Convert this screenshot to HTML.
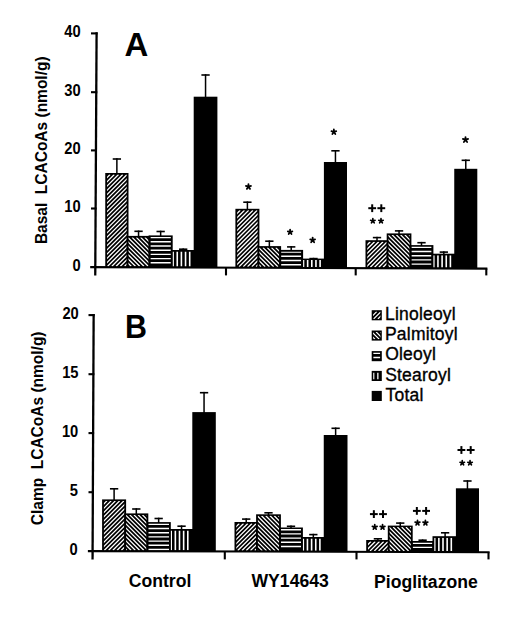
<!DOCTYPE html>
<html><head><meta charset="utf-8"><style>
html,body{margin:0;padding:0;background:#fff;}
body{width:520px;height:624px;overflow:hidden;}
svg{display:block;}
text{font-family:"Liberation Sans",sans-serif;fill:#000;}
.tl{font-weight:bold;font-size:15.5px;text-anchor:end;}
.yl{font-weight:bold;font-size:15.5px;}
.xl{font-weight:bold;font-size:17.6px;}
.lg{font-size:17.5px;letter-spacing:0.2px;stroke:#000;stroke-width:0.35px;}
.pl{font-weight:bold;font-size:32px;}
</style></head><body>
<svg width="520" height="624" viewBox="0 0 520 624">

<line x1="96.60" y1="32.30" x2="95.25" y2="275.40" stroke="#000" stroke-width="2.3"/>
<line x1="91.00" y1="33.40" x2="97.60" y2="33.40" stroke="#000" stroke-width="2.1"/>
<line x1="91.00" y1="92.20" x2="97.27" y2="92.20" stroke="#000" stroke-width="2.1"/>
<line x1="91.00" y1="150.40" x2="96.95" y2="150.40" stroke="#000" stroke-width="2.1"/>
<line x1="91.00" y1="208.50" x2="96.63" y2="208.50" stroke="#000" stroke-width="2.1"/>
<line x1="90.20" y1="267.10" x2="487.40" y2="268.60" stroke="#000" stroke-width="2.1"/>
<line x1="226.00" y1="267.61" x2="226.00" y2="275.40" stroke="#000" stroke-width="2.1"/>
<line x1="355.70" y1="268.10" x2="355.70" y2="275.40" stroke="#000" stroke-width="2.1"/>
<line x1="486.30" y1="268.60" x2="486.30" y2="275.40" stroke="#000" stroke-width="2.1"/>
<line x1="93.65" y1="314.00" x2="92.56" y2="559.40" stroke="#000" stroke-width="2.3"/>
<line x1="88.50" y1="315.10" x2="94.65" y2="315.10" stroke="#000" stroke-width="2.1"/>
<line x1="88.50" y1="374.20" x2="94.39" y2="374.20" stroke="#000" stroke-width="2.1"/>
<line x1="88.50" y1="433.10" x2="94.12" y2="433.10" stroke="#000" stroke-width="2.1"/>
<line x1="88.50" y1="492.20" x2="93.86" y2="492.20" stroke="#000" stroke-width="2.1"/>
<line x1="87.90" y1="551.10" x2="489.60" y2="552.20" stroke="#000" stroke-width="2.1"/>
<line x1="224.80" y1="551.48" x2="224.80" y2="559.40" stroke="#000" stroke-width="2.1"/>
<line x1="356.50" y1="551.84" x2="356.50" y2="559.40" stroke="#000" stroke-width="2.1"/>
<line x1="488.50" y1="552.20" x2="488.50" y2="559.40" stroke="#000" stroke-width="2.1"/>
<rect x="116.12" y="158.20" width="1.5" height="15.80" fill="#000"/>
<rect x="112.72" y="158.20" width="8.3" height="1.6" fill="#000"/>
<rect x="105.25" y="173.00" width="23.25" height="94.20" fill="#000"/>
<clipPath id="c5"><rect x="107.05" y="174.50" width="19.65" height="91.70"/></clipPath><path clip-path="url(#c5)" d="M101.55 174.50L9.85 266.20M105.80 174.50L14.10 266.20M110.05 174.50L18.35 266.20M114.30 174.50L22.60 266.20M118.55 174.50L26.85 266.20M122.80 174.50L31.10 266.20M127.05 174.50L35.35 266.20M131.30 174.50L39.60 266.20M135.55 174.50L43.85 266.20M139.80 174.50L48.10 266.20M144.05 174.50L52.35 266.20M148.30 174.50L56.60 266.20M152.55 174.50L60.85 266.20M156.80 174.50L65.10 266.20M161.05 174.50L69.35 266.20M165.30 174.50L73.60 266.20M169.55 174.50L77.85 266.20M173.80 174.50L82.10 266.20M178.05 174.50L86.35 266.20M182.30 174.50L90.60 266.20M186.55 174.50L94.85 266.20M190.80 174.50L99.10 266.20M195.05 174.50L103.35 266.20M199.30 174.50L107.60 266.20M203.55 174.50L111.85 266.20M207.80 174.50L116.10 266.20M212.05 174.50L120.35 266.20M216.30 174.50L124.60 266.20M220.55 174.50L128.85 266.20M224.80 174.50L133.10 266.20" stroke="#fff" stroke-width="1.3" fill="none"/>
<rect x="137.80" y="230.50" width="1.5" height="6.40" fill="#000"/>
<rect x="134.40" y="230.50" width="8.3" height="1.6" fill="#000"/>
<rect x="126.70" y="235.90" width="23.70" height="31.38" fill="#000"/>
<clipPath id="c6"><rect x="128.50" y="237.40" width="20.10" height="28.88"/></clipPath><path clip-path="url(#c6)" d="M98.10 237.40L126.98 266.28M102.35 237.40L131.23 266.28M106.60 237.40L135.48 266.28M110.85 237.40L139.73 266.28M115.10 237.40L143.98 266.28M119.35 237.40L148.23 266.28M123.60 237.40L152.48 266.28M127.85 237.40L156.73 266.28M132.10 237.40L160.98 266.28M136.35 237.40L165.23 266.28M140.60 237.40L169.48 266.28M144.85 237.40L173.73 266.28M149.10 237.40L177.98 266.28M153.35 237.40L182.23 266.28M157.60 237.40L186.48 266.28" stroke="#fff" stroke-width="1.3" fill="none"/>
<rect x="159.90" y="230.70" width="1.5" height="5.70" fill="#000"/>
<rect x="156.50" y="230.70" width="8.3" height="1.6" fill="#000"/>
<rect x="148.60" y="235.40" width="24.10" height="31.97" fill="#000"/>
<clipPath id="c7"><rect x="150.40" y="236.90" width="20.50" height="29.47"/></clipPath><path clip-path="url(#c7)" d="M150.40 237.60H170.90M150.40 241.80H170.90M150.40 246.00H170.90M150.40 250.20H170.90M150.40 254.40H170.90M150.40 258.60H170.90M150.40 262.80H170.90" stroke="#fff" stroke-width="1.4" fill="none"/>
<rect x="182.45" y="248.40" width="1.5" height="2.60" fill="#000"/>
<rect x="179.05" y="248.40" width="8.3" height="1.6" fill="#000"/>
<rect x="170.90" y="250.00" width="24.60" height="17.45" fill="#000"/>
<clipPath id="c8"><rect x="172.70" y="251.50" width="19.30" height="14.95"/></clipPath><path clip-path="url(#c8)" d="M173.10 251.50V266.45M177.25 251.50V266.45M181.40 251.50V266.45M185.55 251.50V266.45M189.70 251.50V266.45" stroke="#fff" stroke-width="1.6" fill="none"/>
<rect x="204.80" y="74.20" width="1.5" height="23.50" fill="#000"/>
<rect x="201.40" y="74.20" width="8.3" height="1.6" fill="#000"/>
<rect x="193.70" y="96.70" width="23.70" height="170.84" fill="#000"/>
<rect x="246.65" y="201.40" width="1.5" height="8.40" fill="#000"/>
<rect x="243.25" y="201.40" width="8.3" height="1.6" fill="#000"/>
<rect x="235.40" y="208.80" width="24.00" height="58.89" fill="#000"/>
<clipPath id="c9"><rect x="237.20" y="210.30" width="20.40" height="56.39"/></clipPath><path clip-path="url(#c9)" d="M231.70 210.30L175.31 266.69M235.95 210.30L179.56 266.69M240.20 210.30L183.81 266.69M244.45 210.30L188.06 266.69M248.70 210.30L192.31 266.69M252.95 210.30L196.56 266.69M257.20 210.30L200.81 266.69M261.45 210.30L205.06 266.69M265.70 210.30L209.31 266.69M269.95 210.30L213.56 266.69M274.20 210.30L217.81 266.69M278.45 210.30L222.06 266.69M282.70 210.30L226.31 266.69M286.95 210.30L230.56 266.69M291.20 210.30L234.81 266.69M295.45 210.30L239.06 266.69M299.70 210.30L243.31 266.69M303.95 210.30L247.56 266.69M308.20 210.30L251.81 266.69M312.45 210.30L256.06 266.69M316.70 210.30L260.31 266.69M320.95 210.30L264.56 266.69" stroke="#fff" stroke-width="1.3" fill="none"/>
<rect x="268.60" y="240.40" width="1.5" height="6.70" fill="#000"/>
<rect x="265.20" y="240.40" width="8.3" height="1.6" fill="#000"/>
<rect x="257.60" y="246.10" width="23.50" height="21.68" fill="#000"/>
<clipPath id="c10"><rect x="259.40" y="247.60" width="19.90" height="19.18"/></clipPath><path clip-path="url(#c10)" d="M237.50 247.60L256.68 266.78M241.75 247.60L260.93 266.78M246.00 247.60L265.18 266.78M250.25 247.60L269.43 266.78M254.50 247.60L273.68 266.78M258.75 247.60L277.93 266.78M263.00 247.60L282.18 266.78M267.25 247.60L286.43 266.78M271.50 247.60L290.68 266.78M275.75 247.60L294.93 266.78M280.00 247.60L299.18 266.78M284.25 247.60L303.43 266.78M288.50 247.60L307.68 266.78" stroke="#fff" stroke-width="1.3" fill="none"/>
<rect x="290.45" y="246.10" width="1.5" height="4.80" fill="#000"/>
<rect x="287.05" y="246.10" width="8.3" height="1.6" fill="#000"/>
<rect x="279.30" y="249.90" width="23.80" height="17.96" fill="#000"/>
<clipPath id="c11"><rect x="281.10" y="251.40" width="20.20" height="15.46"/></clipPath><path clip-path="url(#c11)" d="M281.10 252.10H301.30M281.10 256.30H301.30M281.10 260.50H301.30M281.10 264.70H301.30" stroke="#fff" stroke-width="1.4" fill="none"/>
<rect x="312.75" y="257.80" width="1.5" height="1.80" fill="#000"/>
<rect x="309.35" y="257.80" width="8.3" height="1.6" fill="#000"/>
<rect x="301.30" y="258.60" width="24.40" height="9.34" fill="#000"/>
<clipPath id="c12"><rect x="303.10" y="260.10" width="19.10" height="6.84"/></clipPath><path clip-path="url(#c12)" d="M303.50 260.10V266.94M307.65 260.10V266.94M311.80 260.10V266.94M315.95 260.10V266.94M320.10 260.10V266.94" stroke="#fff" stroke-width="1.6" fill="none"/>
<rect x="334.70" y="150.00" width="1.5" height="13.00" fill="#000"/>
<rect x="331.30" y="150.00" width="8.3" height="1.6" fill="#000"/>
<rect x="323.90" y="162.00" width="23.10" height="106.03" fill="#000"/>
<rect x="376.25" y="236.80" width="1.5" height="4.40" fill="#000"/>
<rect x="372.85" y="236.80" width="8.3" height="1.6" fill="#000"/>
<rect x="365.50" y="240.20" width="23.00" height="27.98" fill="#000"/>
<clipPath id="c13"><rect x="367.30" y="241.70" width="19.40" height="25.48"/></clipPath><path clip-path="url(#c13)" d="M361.80 241.70L336.32 267.18M366.05 241.70L340.57 267.18M370.30 241.70L344.82 267.18M374.55 241.70L349.07 267.18M378.80 241.70L353.32 267.18M383.05 241.70L357.57 267.18M387.30 241.70L361.82 267.18M391.55 241.70L366.07 267.18M395.80 241.70L370.32 267.18M400.05 241.70L374.57 267.18M404.30 241.70L378.82 267.18M408.55 241.70L383.07 267.18M412.80 241.70L387.32 267.18M417.05 241.70L391.57 267.18M421.30 241.70L395.82 267.18" stroke="#fff" stroke-width="1.3" fill="none"/>
<rect x="398.30" y="230.10" width="1.5" height="4.30" fill="#000"/>
<rect x="394.90" y="230.10" width="8.3" height="1.6" fill="#000"/>
<rect x="386.70" y="233.40" width="24.70" height="34.87" fill="#000"/>
<clipPath id="c14"><rect x="388.50" y="234.90" width="21.10" height="32.37"/></clipPath><path clip-path="url(#c14)" d="M353.85 234.90L386.22 267.27M358.10 234.90L390.47 267.27M362.35 234.90L394.72 267.27M366.60 234.90L398.97 267.27M370.85 234.90L403.22 267.27M375.10 234.90L407.47 267.27M379.35 234.90L411.72 267.27M383.60 234.90L415.97 267.27M387.85 234.90L420.22 267.27M392.10 234.90L424.47 267.27M396.35 234.90L428.72 267.27M400.60 234.90L432.97 267.27M404.85 234.90L437.22 267.27M409.10 234.90L441.47 267.27M413.35 234.90L445.72 267.27M417.60 234.90L449.97 267.27" stroke="#fff" stroke-width="1.3" fill="none"/>
<rect x="420.75" y="241.90" width="1.5" height="4.20" fill="#000"/>
<rect x="417.35" y="241.90" width="8.3" height="1.6" fill="#000"/>
<rect x="409.60" y="245.10" width="23.80" height="23.25" fill="#000"/>
<clipPath id="c15"><rect x="411.40" y="246.60" width="20.20" height="20.75"/></clipPath><path clip-path="url(#c15)" d="M411.40 247.30H431.60M411.40 251.50H431.60M411.40 255.70H431.60M411.40 259.90H431.60M411.40 264.10H431.60" stroke="#fff" stroke-width="1.4" fill="none"/>
<rect x="443.07" y="251.30" width="1.5" height="3.40" fill="#000"/>
<rect x="439.68" y="251.30" width="8.3" height="1.6" fill="#000"/>
<rect x="431.60" y="253.70" width="24.45" height="14.74" fill="#000"/>
<clipPath id="c16"><rect x="433.40" y="255.20" width="19.15" height="12.24"/></clipPath><path clip-path="url(#c16)" d="M433.80 255.20V267.44M437.95 255.20V267.44M442.10 255.20V267.44M446.25 255.20V267.44M450.40 255.20V267.44" stroke="#fff" stroke-width="1.6" fill="none"/>
<rect x="465.02" y="159.50" width="1.5" height="10.30" fill="#000"/>
<rect x="461.62" y="159.50" width="8.3" height="1.6" fill="#000"/>
<rect x="454.25" y="168.80" width="23.05" height="99.72" fill="#000"/>
<rect x="113.35" y="488.00" width="1.5" height="12.40" fill="#000"/>
<rect x="109.95" y="488.00" width="8.3" height="1.6" fill="#000"/>
<rect x="102.10" y="499.40" width="24.00" height="51.77" fill="#000"/>
<clipPath id="c17"><rect x="103.90" y="500.90" width="20.40" height="49.27"/></clipPath><path clip-path="url(#c17)" d="M98.40 500.90L49.13 550.17M102.65 500.90L53.38 550.17M106.90 500.90L57.63 550.17M111.15 500.90L61.88 550.17M115.40 500.90L66.13 550.17M119.65 500.90L70.38 550.17M123.90 500.90L74.63 550.17M128.15 500.90L78.88 550.17M132.40 500.90L83.13 550.17M136.65 500.90L87.38 550.17M140.90 500.90L91.63 550.17M145.15 500.90L95.88 550.17M149.40 500.90L100.13 550.17M153.65 500.90L104.38 550.17M157.90 500.90L108.63 550.17M162.15 500.90L112.88 550.17M166.40 500.90L117.13 550.17M170.65 500.90L121.38 550.17M174.90 500.90L125.63 550.17M179.15 500.90L129.88 550.17" stroke="#fff" stroke-width="1.3" fill="none"/>
<rect x="135.55" y="508.20" width="1.5" height="6.20" fill="#000"/>
<rect x="132.15" y="508.20" width="8.3" height="1.6" fill="#000"/>
<rect x="124.30" y="513.40" width="24.00" height="37.83" fill="#000"/>
<clipPath id="c18"><rect x="126.10" y="514.90" width="20.40" height="35.33"/></clipPath><path clip-path="url(#c18)" d="M87.20 514.90L122.53 550.23M91.45 514.90L126.78 550.23M95.70 514.90L131.03 550.23M99.95 514.90L135.28 550.23M104.20 514.90L139.53 550.23M108.45 514.90L143.78 550.23M112.70 514.90L148.03 550.23M116.95 514.90L152.28 550.23M121.20 514.90L156.53 550.23M125.45 514.90L160.78 550.23M129.70 514.90L165.03 550.23M133.95 514.90L169.28 550.23M138.20 514.90L173.53 550.23M142.45 514.90L177.78 550.23M146.70 514.90L182.03 550.23M150.95 514.90L186.28 550.23M155.20 514.90L190.53 550.23" stroke="#fff" stroke-width="1.3" fill="none"/>
<rect x="157.90" y="517.70" width="1.5" height="5.40" fill="#000"/>
<rect x="154.50" y="517.70" width="8.3" height="1.6" fill="#000"/>
<rect x="146.50" y="522.10" width="24.30" height="29.19" fill="#000"/>
<clipPath id="c19"><rect x="148.30" y="523.60" width="20.70" height="26.69"/></clipPath><path clip-path="url(#c19)" d="M148.30 524.30H169.00M148.30 528.50H169.00M148.30 532.70H169.00M148.30 536.90H169.00M148.30 541.10H169.00M148.30 545.30H169.00M148.30 549.50H169.00" stroke="#fff" stroke-width="1.4" fill="none"/>
<rect x="180.80" y="525.40" width="1.5" height="4.60" fill="#000"/>
<rect x="177.40" y="525.40" width="8.3" height="1.6" fill="#000"/>
<rect x="169.00" y="529.00" width="25.10" height="22.36" fill="#000"/>
<clipPath id="c20"><rect x="170.80" y="530.50" width="19.80" height="19.86"/></clipPath><path clip-path="url(#c20)" d="M171.20 530.50V550.36M175.35 530.50V550.36M179.50 530.50V550.36M183.65 530.50V550.36M187.80 530.50V550.36" stroke="#fff" stroke-width="1.6" fill="none"/>
<rect x="203.30" y="391.90" width="1.5" height="21.20" fill="#000"/>
<rect x="199.90" y="391.90" width="8.3" height="1.6" fill="#000"/>
<rect x="192.30" y="412.10" width="23.50" height="139.32" fill="#000"/>
<rect x="245.45" y="518.30" width="1.5" height="4.70" fill="#000"/>
<rect x="242.05" y="518.30" width="8.3" height="1.6" fill="#000"/>
<rect x="234.50" y="522.00" width="23.40" height="29.53" fill="#000"/>
<clipPath id="c21"><rect x="236.30" y="523.50" width="19.80" height="27.03"/></clipPath><path clip-path="url(#c21)" d="M230.80 523.50L203.77 550.53M235.05 523.50L208.02 550.53M239.30 523.50L212.27 550.53M243.55 523.50L216.52 550.53M247.80 523.50L220.77 550.53M252.05 523.50L225.02 550.53M256.30 523.50L229.27 550.53M260.55 523.50L233.52 550.53M264.80 523.50L237.77 550.53M269.05 523.50L242.02 550.53M273.30 523.50L246.27 550.53M277.55 523.50L250.52 550.53M281.80 523.50L254.77 550.53M286.05 523.50L259.02 550.53M290.30 523.50L263.27 550.53" stroke="#fff" stroke-width="1.3" fill="none"/>
<rect x="267.75" y="512.00" width="1.5" height="3.30" fill="#000"/>
<rect x="264.35" y="512.00" width="8.3" height="1.6" fill="#000"/>
<rect x="256.10" y="514.30" width="24.80" height="37.30" fill="#000"/>
<clipPath id="c22"><rect x="257.90" y="515.80" width="21.20" height="34.80"/></clipPath><path clip-path="url(#c22)" d="M219.00 515.80L253.80 550.60M223.25 515.80L258.05 550.60M227.50 515.80L262.30 550.60M231.75 515.80L266.55 550.60M236.00 515.80L270.80 550.60M240.25 515.80L275.05 550.60M244.50 515.80L279.30 550.60M248.75 515.80L283.55 550.60M253.00 515.80L287.80 550.60M257.25 515.80L292.05 550.60M261.50 515.80L296.30 550.60M265.75 515.80L300.55 550.60M270.00 515.80L304.80 550.60M274.25 515.80L309.05 550.60M278.50 515.80L313.30 550.60M282.75 515.80L317.55 550.60M287.00 515.80L321.80 550.60" stroke="#fff" stroke-width="1.3" fill="none"/>
<rect x="290.25" y="525.50" width="1.5" height="3.00" fill="#000"/>
<rect x="286.85" y="525.50" width="8.3" height="1.6" fill="#000"/>
<rect x="279.10" y="527.50" width="23.80" height="24.16" fill="#000"/>
<clipPath id="c23"><rect x="280.90" y="529.00" width="20.20" height="21.66"/></clipPath><path clip-path="url(#c23)" d="M280.90 529.70H301.10M280.90 533.90H301.10M280.90 538.10H301.10M280.90 542.30H301.10M280.90 546.50H301.10" stroke="#fff" stroke-width="1.4" fill="none"/>
<rect x="312.57" y="533.80" width="1.5" height="4.20" fill="#000"/>
<rect x="309.18" y="533.80" width="8.3" height="1.6" fill="#000"/>
<rect x="301.10" y="537.00" width="24.45" height="14.72" fill="#000"/>
<clipPath id="c24"><rect x="302.90" y="538.50" width="19.15" height="12.22"/></clipPath><path clip-path="url(#c24)" d="M303.30 538.50V550.72M307.45 538.50V550.72M311.60 538.50V550.72M315.75 538.50V550.72M319.90 538.50V550.72" stroke="#fff" stroke-width="1.6" fill="none"/>
<rect x="334.88" y="427.50" width="1.5" height="8.50" fill="#000"/>
<rect x="331.48" y="427.50" width="8.3" height="1.6" fill="#000"/>
<rect x="323.75" y="435.00" width="23.75" height="116.78" fill="#000"/>
<rect x="377.15" y="538.00" width="1.5" height="3.00" fill="#000"/>
<rect x="373.75" y="538.00" width="8.3" height="1.6" fill="#000"/>
<rect x="366.20" y="540.00" width="23.40" height="11.90" fill="#000"/>
<clipPath id="c25"><rect x="368.00" y="541.50" width="19.80" height="9.40"/></clipPath><path clip-path="url(#c25)" d="M362.50 541.50L353.10 550.90M366.75 541.50L357.35 550.90M371.00 541.50L361.60 550.90M375.25 541.50L365.85 550.90M379.50 541.50L370.10 550.90M383.75 541.50L374.35 550.90M388.00 541.50L378.60 550.90M392.25 541.50L382.85 550.90M396.50 541.50L387.10 550.90M400.75 541.50L391.35 550.90M405.00 541.50L395.60 550.90" stroke="#fff" stroke-width="1.3" fill="none"/>
<rect x="399.50" y="522.30" width="1.5" height="4.30" fill="#000"/>
<rect x="396.10" y="522.30" width="8.3" height="1.6" fill="#000"/>
<rect x="387.80" y="525.60" width="24.90" height="26.36" fill="#000"/>
<clipPath id="c26"><rect x="389.60" y="527.10" width="21.30" height="23.86"/></clipPath><path clip-path="url(#c26)" d="M363.45 527.10L387.31 550.96M367.70 527.10L391.56 550.96M371.95 527.10L395.81 550.96M376.20 527.10L400.06 550.96M380.45 527.10L404.31 550.96M384.70 527.10L408.56 550.96M388.95 527.10L412.81 550.96M393.20 527.10L417.06 550.96M397.45 527.10L421.31 550.96M401.70 527.10L425.56 550.96M405.95 527.10L429.81 550.96M410.20 527.10L434.06 550.96M414.45 527.10L438.31 550.96M418.70 527.10L442.56 550.96" stroke="#fff" stroke-width="1.3" fill="none"/>
<rect x="421.85" y="539.40" width="1.5" height="2.60" fill="#000"/>
<rect x="418.45" y="539.40" width="8.3" height="1.6" fill="#000"/>
<rect x="410.90" y="541.00" width="23.40" height="11.02" fill="#000"/>
<clipPath id="c27"><rect x="412.70" y="542.50" width="19.80" height="8.52"/></clipPath><path clip-path="url(#c27)" d="M412.70 543.20H432.50M412.70 547.40H432.50" stroke="#fff" stroke-width="1.4" fill="none"/>
<rect x="444.35" y="532.00" width="1.5" height="5.20" fill="#000"/>
<rect x="440.95" y="532.00" width="8.3" height="1.6" fill="#000"/>
<rect x="432.50" y="536.20" width="25.20" height="15.88" fill="#000"/>
<clipPath id="c28"><rect x="434.30" y="537.70" width="19.90" height="13.38"/></clipPath><path clip-path="url(#c28)" d="M434.70 537.70V551.08M438.85 537.70V551.08M443.00 537.70V551.08M447.15 537.70V551.08M451.30 537.70V551.08" stroke="#fff" stroke-width="1.6" fill="none"/>
<rect x="466.70" y="480.20" width="1.5" height="9.10" fill="#000"/>
<rect x="463.30" y="480.20" width="8.3" height="1.6" fill="#000"/>
<rect x="455.90" y="488.30" width="23.10" height="63.84" fill="#000"/>
<path d="M248.45 186.75L248.45 184.10M248.45 186.75L250.97 185.93M248.45 186.75L250.01 188.90M248.45 186.75L246.89 188.90M248.45 186.75L245.93 185.93" stroke="#000" stroke-width="1.8" stroke-linecap="round" fill="none"/><circle cx="248.45" cy="186.75" r="1.33" fill="#000"/><path d="M290.10 232.08L290.10 229.70M290.10 232.08L292.36 231.34M290.10 232.08L291.50 234.00M290.10 232.08L288.70 234.00M290.10 232.08L287.84 231.34" stroke="#000" stroke-width="1.8" stroke-linecap="round" fill="none"/><circle cx="290.10" cy="232.08" r="1.19" fill="#000"/><path d="M312.65 240.14L312.65 237.60M312.65 240.14L315.07 239.36M312.65 240.14L314.14 242.20M312.65 240.14L311.16 242.20M312.65 240.14L310.23 239.36" stroke="#000" stroke-width="1.8" stroke-linecap="round" fill="none"/><circle cx="312.65" cy="240.14" r="1.27" fill="#000"/><path d="M333.85 131.99L333.85 129.50M333.85 131.99L336.22 131.22M333.85 131.99L335.31 134.00M333.85 131.99L332.39 134.00M333.85 131.99L331.48 131.22" stroke="#000" stroke-width="1.8" stroke-linecap="round" fill="none"/><circle cx="333.85" cy="131.99" r="1.24" fill="#000"/><path d="M465.50 139.79L465.50 137.05M465.50 139.79L468.10 138.94M465.50 139.79L467.11 142.00M465.50 139.79L463.89 142.00M465.50 139.79L462.90 138.94" stroke="#000" stroke-width="1.8" stroke-linecap="round" fill="none"/><circle cx="465.50" cy="139.79" r="1.37" fill="#000"/><rect x="368.30" y="207.20" width="7.8" height="2.0" fill="#000"/><rect x="371.20" y="204.30" width="2.0" height="7.8" fill="#000"/><rect x="377.40" y="207.20" width="7.8" height="2.0" fill="#000"/><rect x="380.30" y="204.30" width="2.0" height="7.8" fill="#000"/><path d="M372.85 220.97L372.85 218.65M372.85 220.97L375.06 220.25M372.85 220.97L374.21 222.85M372.85 220.97L371.49 222.85M372.85 220.97L370.64 220.25" stroke="#000" stroke-width="1.7" stroke-linecap="round" fill="none"/><circle cx="372.85" cy="220.97" r="1.16" fill="#000"/><path d="M381.00 220.97L381.00 218.65M381.00 220.97L383.21 220.25M381.00 220.97L382.36 222.85M381.00 220.97L379.64 222.85M381.00 220.97L378.79 220.25" stroke="#000" stroke-width="1.7" stroke-linecap="round" fill="none"/><circle cx="381.00" cy="220.97" r="1.16" fill="#000"/><rect x="369.95" y="513.10" width="7.8" height="2.0" fill="#000"/><rect x="372.85" y="510.20" width="2.0" height="7.8" fill="#000"/><rect x="379.10" y="513.10" width="7.8" height="2.0" fill="#000"/><rect x="382.00" y="510.20" width="2.0" height="7.8" fill="#000"/><path d="M374.75 527.12L374.75 524.60M374.75 527.12L377.14 526.34M374.75 527.12L376.23 529.15M374.75 527.12L373.27 529.15M374.75 527.12L372.36 526.34" stroke="#000" stroke-width="1.7" stroke-linecap="round" fill="none"/><circle cx="374.75" cy="527.12" r="1.26" fill="#000"/><path d="M382.55 527.12L382.55 524.60M382.55 527.12L384.94 526.34M382.55 527.12L384.03 529.15M382.55 527.12L381.07 529.15M382.55 527.12L380.16 526.34" stroke="#000" stroke-width="1.7" stroke-linecap="round" fill="none"/><circle cx="382.55" cy="527.12" r="1.26" fill="#000"/><rect x="412.95" y="509.90" width="7.8" height="2.0" fill="#000"/><rect x="415.85" y="507.00" width="2.0" height="7.8" fill="#000"/><rect x="422.20" y="509.90" width="7.8" height="2.0" fill="#000"/><rect x="425.10" y="507.00" width="2.0" height="7.8" fill="#000"/><path d="M417.50 522.87L417.50 520.35M417.50 522.87L419.89 522.09M417.50 522.87L418.98 524.90M417.50 522.87L416.02 524.90M417.50 522.87L415.11 522.09" stroke="#000" stroke-width="1.7" stroke-linecap="round" fill="none"/><circle cx="417.50" cy="522.87" r="1.26" fill="#000"/><path d="M425.40 522.87L425.40 520.35M425.40 522.87L427.79 522.09M425.40 522.87L426.88 524.90M425.40 522.87L423.92 524.90M425.40 522.87L423.01 522.09" stroke="#000" stroke-width="1.7" stroke-linecap="round" fill="none"/><circle cx="425.40" cy="522.87" r="1.26" fill="#000"/><rect x="457.50" y="449.00" width="7.8" height="2.0" fill="#000"/><rect x="460.40" y="446.10" width="2.0" height="7.8" fill="#000"/><rect x="466.80" y="449.00" width="7.8" height="2.0" fill="#000"/><rect x="469.70" y="446.10" width="2.0" height="7.8" fill="#000"/><path d="M462.25 462.97L462.25 460.65M462.25 462.97L464.46 462.25M462.25 462.97L463.61 464.85M462.25 462.97L460.89 464.85M462.25 462.97L460.04 462.25" stroke="#000" stroke-width="1.7" stroke-linecap="round" fill="none"/><circle cx="462.25" cy="462.97" r="1.16" fill="#000"/><path d="M470.05 462.97L470.05 460.65M470.05 462.97L472.26 462.25M470.05 462.97L471.41 464.85M470.05 462.97L468.69 464.85M470.05 462.97L467.84 462.25" stroke="#000" stroke-width="1.7" stroke-linecap="round" fill="none"/><circle cx="470.05" cy="462.97" r="1.16" fill="#000"/>
<text transform="translate(80.60,37.10) scale(0.95,1.12)" class="tl">40</text>
<text transform="translate(80.60,95.50) scale(0.95,1.12)" class="tl">30</text>
<text transform="translate(80.60,153.90) scale(0.95,1.12)" class="tl">20</text>
<text transform="translate(80.60,212.30) scale(0.95,1.12)" class="tl">10</text>
<text transform="translate(80.60,270.75) scale(0.95,1.12)" class="tl">0</text>
<text transform="translate(78.80,318.75) scale(0.95,1.12)" class="tl">20</text>
<text transform="translate(78.55,377.75) scale(0.95,1.12)" class="tl">15</text>
<text transform="translate(78.30,436.75) scale(0.95,1.12)" class="tl">10</text>
<text transform="translate(78.05,495.75) scale(0.95,1.12)" class="tl">5</text>
<text transform="translate(77.80,554.75) scale(0.95,1.12)" class="tl">0</text>
<text class="pl" transform="translate(124.5,55.5) scale(1.03,1.045)">A</text>
<text class="pl" transform="translate(124.9,338.4) scale(0.95,1.05)">B</text>
<text class="yl" transform="translate(46.5,244.1) rotate(-90) scale(1,1.06)" xml:space="preserve">Basal  LCACoAs (nmol/g)</text>
<text class="yl" transform="translate(43.4,525.2) rotate(-90) scale(1,1.06)" xml:space="preserve">Clamp  LCACoAs (nmol/g)</text>
<text class="xl" x="128.8" y="587.3">Control</text>
<text class="xl" x="251.5" y="587.4">WY14643</text>
<text class="xl" x="374.1" y="587.5">Pioglitazone</text>
<g>
<rect x="371.7" y="310.2" width="10.10" height="10.1" fill="#000"/>
<clipPath id="c1"><rect x="373.10" y="311.60" width="7.30" height="7.30"/></clipPath><path clip-path="url(#c1)" d="M368.20 311.60L360.90 318.90M372.45 311.60L365.15 318.90M376.70 311.60L369.40 318.90M380.95 311.60L373.65 318.90M385.20 311.60L377.90 318.90M389.45 311.60L382.15 318.90M393.70 311.60L386.40 318.90" stroke="#fff" stroke-width="1.2" fill="none"/>
<rect x="371.7" y="330.5" width="10.10" height="10.1" fill="#000"/>
<clipPath id="c2"><rect x="373.10" y="331.90" width="7.30" height="7.30"/></clipPath><path clip-path="url(#c2)" d="M363.35 331.90L370.65 339.20M367.60 331.90L374.90 339.20M371.85 331.90L379.15 339.20M376.10 331.90L383.40 339.20M380.35 331.90L387.65 339.20M384.60 331.90L391.90 339.20M388.85 331.90L396.15 339.20" stroke="#fff" stroke-width="1.2" fill="none"/>
<rect x="371.7" y="351.1" width="10.10" height="10.1" fill="#000"/>
<clipPath id="c3"><rect x="373.20" y="352.50" width="7.10" height="7.30"/></clipPath><path clip-path="url(#c3)" d="M373.20 353.20H380.30M373.20 357.40H380.30" stroke="#fff" stroke-width="1.5" fill="none"/>
<rect x="371.7" y="370.9" width="10.10" height="10.1" fill="#000"/>
<clipPath id="c4"><rect x="373.20" y="372.40" width="7.10" height="7.10"/></clipPath><path clip-path="url(#c4)" d="M373.70 372.40V379.50M377.85 372.40V379.50" stroke="#fff" stroke-width="1.3" fill="none"/>
<rect x="371.7" y="390.9" width="10.10" height="10.1" fill="#000"/>
<text class="lg" x="385" y="319.9">Linoleoyl</text>
<text class="lg" x="385" y="339.9">Palmitoyl</text>
<text class="lg" x="385.2" y="360.3">Oleoyl</text>
<text class="lg" x="385.2" y="380.9">Stearoyl</text>
<text class="lg" x="385.5" y="400.6">Total</text>
</g>
</svg>
</body></html>
